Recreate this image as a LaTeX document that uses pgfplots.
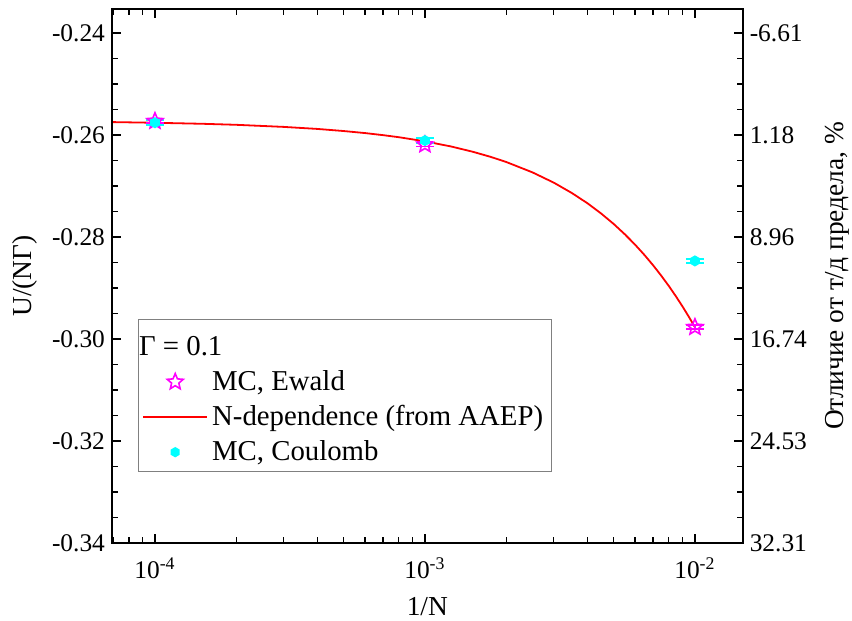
\documentclass[border=0pt]{standalone}
\usepackage{fontspec}
\setmainfont{Liberation Serif}
\usepackage{pgfplots}
\pgfplotsset{compat=1.18}

\definecolor{ewald}{RGB}{255,0,255}
\definecolor{coul}{RGB}{0,255,255}

% open five-pointed star
\pgfdeclareplotmark{ostar}{%
  \pgfpathmoveto{\pgfpointpolar{90}{\pgfplotmarksize}}%
  \pgfpathlineto{\pgfpointpolar{126}{0.45\pgfplotmarksize}}%
  \pgfpathlineto{\pgfpointpolar{162}{\pgfplotmarksize}}%
  \pgfpathlineto{\pgfpointpolar{198}{0.45\pgfplotmarksize}}%
  \pgfpathlineto{\pgfpointpolar{234}{\pgfplotmarksize}}%
  \pgfpathlineto{\pgfpointpolar{270}{0.45\pgfplotmarksize}}%
  \pgfpathlineto{\pgfpointpolar{306}{\pgfplotmarksize}}%
  \pgfpathlineto{\pgfpointpolar{342}{0.45\pgfplotmarksize}}%
  \pgfpathlineto{\pgfpointpolar{18}{\pgfplotmarksize}}%
  \pgfpathlineto{\pgfpointpolar{54}{0.45\pgfplotmarksize}}%
  \pgfpathclose\pgfusepathqstroke}
% filled hexagon
\pgfdeclareplotmark{hexa}{%
  \pgfpathmoveto{\pgfpointpolar{90}{\pgfplotmarksize}}%
  \pgfpathlineto{\pgfpointpolar{150}{\pgfplotmarksize}}%
  \pgfpathlineto{\pgfpointpolar{210}{\pgfplotmarksize}}%
  \pgfpathlineto{\pgfpointpolar{270}{\pgfplotmarksize}}%
  \pgfpathlineto{\pgfpointpolar{330}{\pgfplotmarksize}}%
  \pgfpathlineto{\pgfpointpolar{30}{\pgfplotmarksize}}%
  \pgfpathclose\pgfusepathqfill}

\pgfplotsset{
  markleg/.style={legend image code/.code={%
    \draw[mark repeat=2,mark phase=2,##1] plot coordinates {(0pt,0pt)(16pt,0pt)(32pt,0pt)};}},
  lineleg/.style={legend image code/.code={%
    \draw[##1] (0pt,0pt) -- (32pt,0pt);}},
  noleg/.style={legend image code/.code={}},
}

% N-dependence curve
\pgfplotstableread{
x y
7e-5 -0.25748
1e-4 -0.25761
1.5e-4 -0.25781
2e-4 -0.25801
3e-4 -0.25842
4e-4 -0.25882
5e-4 -0.25923
6e-4 -0.25963
7e-4 -0.26004
8e-4 -0.26044
1e-3 -0.26125
1.25e-3 -0.26226
1.5e-3 -0.26328
1.75e-3 -0.26429
2e-3 -0.26530
2.5e-3 -0.26733
3e-3 -0.26935
3.5e-3 -0.27138
4e-3 -0.27340
4.5e-3 -0.27543
5e-3 -0.27745
5.5e-3 -0.27948
6e-3 -0.28150
6.5e-3 -0.28353
7e-3 -0.28555
7.5e-3 -0.28758
8e-3 -0.28960
8.5e-3 -0.29163
9e-3 -0.29365
9.5e-3 -0.29568
1e-2 -0.29770
}\curve

\pgfplotstableread{
x y e
1e-4 -0.2573 0.0004
1e-3 -0.2619 0.0004
1e-2 -0.2977 0.0004
}\ewald

\pgfplotstableread{
x y e
1e-4 -0.2576 0.0005
1e-3 -0.2611 0.0005
1e-2 -0.2847 0.0004
}\coul

\begin{document}
\begin{tikzpicture}
\begin{axis}[
  name=main,
  width=315.4pt, height=267pt, scale only axis,
  xmode=log, xmin=6.93e-5, xmax=0.01503,
  ymin=-0.34, ymax=-0.2353,
  tick align=inside,
  major tick length=4.5pt, minor tick length=2.8pt,
  every tick/.style={black, line width=0.7pt},
  axis line style={line width=1pt},
  ytick={-0.34,-0.32,-0.30,-0.28,-0.26,-0.24},
  minor y tick num=3,
  tick label style={font=\fontsize{12.7}{14}\selectfont},
  xtick={1e-4,1e-3,1e-2},
  xticklabels={10\textsuperscript{-4},10\textsuperscript{-3},10\textsuperscript{-2}},
  minor xtick={7e-5,8e-5,9e-5,2e-4,3e-4,4e-4,5e-4,6e-4,7e-4,8e-4,9e-4,2e-3,3e-3,4e-3,5e-3,6e-3,7e-3,8e-3,9e-3},
  xtick pos=both, xticklabel pos=lower,
  ytick pos=left,
  yticklabels={-0.34,-0.32,-0.30,-0.28,-0.26,-0.24},
  xticklabel style={yshift=-4pt},
  xlabel={1/N},
  ylabel={U/(NΓ)},
  xlabel style={at={(axis description cs:0.5,-0.12)},anchor=center,font=\fontsize{13.7}{16}\selectfont},
  ylabel style={at={(axis description cs:-0.138,0.5)},anchor=center,font=\fontsize{13.7}{16}\selectfont},
  legend cell align=left,
  legend style={at={(axis description cs:0.041,0.4195)},anchor=north west,
    draw=gray, line width=0.5pt, fill=white,
    font=\fontsize{14.4}{17}\selectfont, row sep=2pt, inner sep=2pt},
]
\addplot[red, line width=0.9pt, forget plot] table[x=x,y=y] {\curve};
\addplot[ewald, only marks, mark=ostar, mark size=4.2pt, line width=0.8pt, forget plot,
  error bars/.cd, y dir=both, y explicit,
  error bar style={line width=0.8pt},
  error mark options={rotate=90, mark size=4.5pt, line width=0.8pt}]
  table[x=x,y=y,y error=e] {\ewald};
\addplot[coul, only marks, mark=hexa, mark size=2.8pt, forget plot,
  error bars/.cd, y dir=both, y explicit,
  error bar style={line width=0.8pt},
  error mark options={rotate=90, mark size=4.5pt, line width=0.8pt}]
  table[x=x,y=y,y error=e] {\coul};

\addlegendimage{noleg}
\addlegendentry{\hspace*{-36.5pt}\rule{0pt}{14pt}Γ = 0.1}
\addlegendimage{ewald, only marks, mark=ostar, mark size=4.2pt, line width=0.8pt, markleg}
\addlegendentry{MC, Ewald}
\addlegendimage{red, line width=0.9pt, lineleg}
\addlegendentry{N-dependence (from AAEP)}
\addlegendimage{coul, only marks, mark=hexa, mark size=2.6pt, markleg}
\addlegendentry{MC, Coulomb}
\end{axis}

\begin{axis}[
  width=315.4pt, height=267pt, scale only axis,
  xmode=log, xmin=6.93e-5, xmax=0.01503,
  ymin=-0.34, ymax=-0.2353,
  hide x axis,
  axis y line*=right,
  y axis line style={-, line width=1pt},
  tick align=inside,
  major tick length=4.5pt, minor tick length=2.8pt,
  every tick/.style={black, line width=0.7pt},
  ytick={-0.34,-0.32,-0.30,-0.28,-0.26,-0.24},
  minor y tick num=3,
  tick label style={font=\fontsize{12.7}{14}\selectfont},
  yticklabels={32.31,24.53,16.74,8.96,1.18,-6.61},
  ylabel={Отличие от т/д предела, \%},
  ylabel style={at={(axis description cs:1.15,0.5)},anchor=center,font=\fontsize{13.7}{16}\selectfont},
]
\addplot[draw=none] coordinates {(1e-3,-0.3)};
\end{axis}

\pgfresetboundingbox
\path ([shift={(-56pt,-39pt)}]main.south west) rectangle ([shift={(54.65pt,4.5pt)}]main.north east);
\end{tikzpicture}
\end{document}
